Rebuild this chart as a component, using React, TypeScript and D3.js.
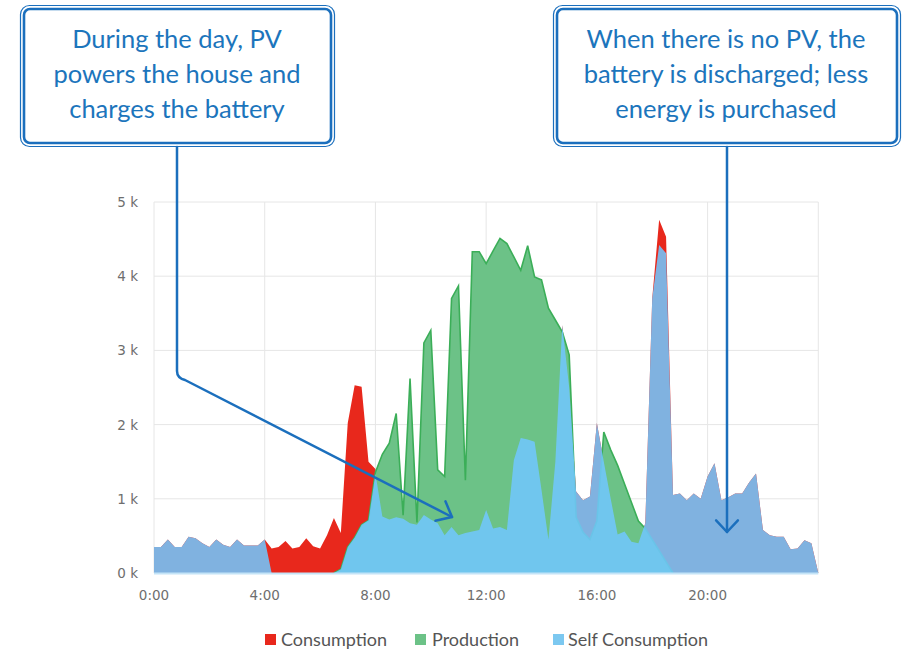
import React from 'react'
import * as d3 from 'd3'

// 15 minute slots from 0:00 to 24:00, values in W
const SLOT_MINUTES = 15

const consumption = [
  350, 350, 450, 350, 350, 490, 470, 400, 350, 450, 380, 350, 450, 370, 370, 370,
  450, 330, 350, 430, 330, 350, 470, 360, 330, 510, 740, 540, 2020, 2530, 2510, 1500,
  1400, 760, 720, 750, 730, 670, 650, 780, 720, 670, 510, 620, 510, 540, 560, 580,
  850, 600, 620, 580, 1520, 1820, 1800, 1770, 1120, 450, 1500, 3340, 2500, 1100, 980, 1030,
  2020, 1500, 1000, 520, 560, 420, 400, 670, 3700, 4760, 4530, 1050, 1070, 980, 1070, 1000,
  1300, 1480, 980, 1020, 1070, 1070, 1220, 1340, 580, 510, 490, 490, 320, 330, 440, 400,
  0,
]

const production = [
  0, 0, 0, 0, 0, 0, 0, 0, 0, 0, 0, 0, 0, 0, 0, 0,
  0, 0, 0, 0, 0, 0, 0, 0, 0, 0, 0, 50, 350, 480, 650, 710,
  1360, 1600, 1750, 2150, 780, 2620, 680, 3100, 3270, 1390, 1300, 3700, 3870, 1250, 4330, 4330,
  4170, 4340, 4510, 4440, 4260, 4080, 4410, 3990, 3950, 3570, 3410, 3250, 2940, 750, 550, 450,
  700, 1900, 1660, 1450, 1200, 950, 700, 600, 450, 300, 150, 0, 0, 0, 0, 0,
  0, 0, 0, 0, 0, 0, 0, 0, 0, 0, 0, 0, 0, 0, 0, 0,
  0,
]

const selfConsumption = [
  350, 350, 450, 350, 350, 490, 470, 400, 350, 450, 380, 350, 450, 370, 370, 370,
  450, 0, 0, 0, 0, 0, 0, 0, 0, 0, 0, 50, 350, 480, 650, 710,
  1340, 760, 720, 750, 730, 670, 650, 780, 720, 670, 510, 620, 510, 540, 560, 580,
  850, 600, 620, 580, 1520, 1820, 1800, 1770, 1120, 450, 1500, 3340, 2500, 1100, 980, 1030,
  2020, 1500, 1000, 520, 560, 420, 400, 670, 3700, 4420, 4310, 1050, 1070, 980, 1070, 1000,
  1300, 1480, 980, 1020, 1070, 1070, 1220, 1340, 580, 510, 490, 490, 320, 330, 440, 400,
  0,
]

const yTicks = [0, 1000, 2000, 3000, 4000, 5000]
const xTicks = [0, 4, 8, 12, 16, 20]
const xTickLabels = ['0:00', '4:00', '8:00', '12:00', '16:00', '20:00']

const seriesNames = ['Consumption', 'Production', 'Self Consumption']

const leftNote = ['During the day, PV', 'powers the house and', 'charges the battery']
const rightNote = ['When there is no PV, the', 'battery is discharged; less', 'energy is purchased']

const W = 902
const H = 652
const BLUE_TEXT = '#1c75bc'
const LINE_BLUE = '#1b6fbd'

function Callout({ x, y, w, h, lines, cx }: { x: number; y: number; w: number; h: number; lines: string[]; cx: number }) {
  return (
    <g>
      <rect x={x + 0.5} y={y + 0.5} width={w - 1} height={h - 1} rx={9} fill="white" stroke={LINE_BLUE} strokeWidth={1.2} />
      <rect x={x + 4} y={y + 4} width={w - 8} height={h - 8} rx={6} fill="white" stroke={LINE_BLUE} strokeWidth={2.6} />
      {lines.map((l, i) => (
        <text key={i} x={cx} y={48 + i * 35} textAnchor="middle" fill={BLUE_TEXT}
          style={{ font: '25.5px Lato, "Open Sans", sans-serif' }}>{l}</text>
      ))}
    </g>
  )
}

function arrowHead(tipX: number, tipY: number, angle: number, len: number, spread: number) {
  // angle = direction the arrow travels (radians)
  const back = angle + Math.PI
  const a1 = back - spread
  const a2 = back + spread
  return `M${tipX + len * Math.cos(a1)},${tipY + len * Math.sin(a1)} L${tipX},${tipY} L${tipX + len * Math.cos(a2)},${tipY + len * Math.sin(a2)}`
}

export default function App() {
  const hours = consumption.map((_, i) => (i * SLOT_MINUTES) / 60)

  const x = d3.scaleLinear().domain([0, 24]).range([154, 818.3])
  const y = d3.scaleLinear().domain([0, 5000]).range([573, 202])

  const areaOf = (vals: number[]) =>
    d3.area<number>()
      .x((_, i) => x(hours[i]))
      .y0(y(0))
      .y1(d => y(d))(vals) || ''

  // production outline only where there is production
  const prodFirst = production.findIndex(v => v > 0) - 1
  let prodLast = production.length - 1
  while (prodLast > 0 && production[prodLast] === 0) prodLast--
  const prodLine = d3.line<number>()
    .x(i => x(hours[i]))
    .y(i => y(production[i]))(d3.range(prodFirst, prodLast + 2)) || ''

  // connectors
  const lStart = { x: 177, y: 147 }
  const lBend = { x: 177, y: 371 }
  const lTip = { x: 452, y: 517 }
  const lAngle = Math.atan2(lTip.y - (lBend.y + 9), lTip.x - (lBend.x + 8))
  const rTip = { x: 727, y: 532 }

  const legendItems = [
    { name: seriesNames[0], color: '#e8281c', sx: 265, tx: 281 },
    { name: seriesNames[1], color: '#6cc287', sx: 415, tx: 432 },
    { name: seriesNames[2], color: '#7cc8f0', sx: 553, tx: 568 },
  ]

  return (
    <svg width={W} height={H} style={{ position: 'absolute', left: 0, top: 0, background: 'white' }}>
      {/* grid */}
      <g stroke="#e6e6e6" strokeWidth={1}>
        {yTicks.map(t => (
          <line key={'h' + t} x1={x(0)} x2={x(24)} y1={y(t)} y2={y(t)} />
        ))}
        {[...xTicks, 24].map(t => (
          <line key={'v' + t} x1={x(t)} x2={x(t)} y1={y(5000)} y2={y(0)} />
        ))}
      </g>

      {/* series */}
      <path d={areaOf(consumption)} fill="#e8281c" />
      <path d={areaOf(production)} fill="#6cc287" />
      <path d={prodLine} fill="none" stroke="#3bae58" strokeWidth={1.6} />
      <path d={areaOf(selfConsumption)} fill="rgb(113,199,254)" fillOpacity={0.87} />
      <line x1={x(0)} x2={x(24)} y1={y(0) + 0.5} y2={y(0) + 0.5} stroke="#c4e4f7" strokeWidth={2} />

      {/* axes labels */}
      <g fill="#6e6e6e" style={{ font: '13.5px "DejaVu Sans", sans-serif' }}>
        {yTicks.map(t => (
          <text key={t} x={138} y={y(t) + 5} textAnchor="end">{`${t / 1000} k`}</text>
        ))}
        {xTicks.map((t, i) => (
          <text key={t} x={x(t)} y={600} textAnchor="middle">{xTickLabels[i]}</text>
        ))}
      </g>

      {/* legend */}
      <g style={{ font: '18px Lato, sans-serif' }} fill="#555">
        {legendItems.map(it => (
          <g key={it.name}>
            <rect x={it.sx} y={634} width={11} height={11} fill={it.color} />
            <text x={it.tx} y={646}>{it.name}</text>
          </g>
        ))}
      </g>

      {/* callouts + connectors */}
      <Callout x={20} y={5} w={315} h={142} lines={leftNote} cx={177} />
      <Callout x={553} y={5} w={348} h={142} lines={rightNote} cx={726} />

      <g fill="none" stroke={LINE_BLUE} strokeWidth={2.5} strokeLinecap="round" strokeLinejoin="round">
        <path d={`M${lStart.x},${lStart.y} L${lBend.x},${lBend.y} Q${lBend.x},${lBend.y + 7} ${lBend.x + 8},${lBend.y + 9} L${lTip.x},${lTip.y}`} />
        <path d={arrowHead(lTip.x, lTip.y, lAngle, 17, 0.7)} />
        <path d={`M${rTip.x},147 L${rTip.x},${rTip.y}`} />
        <path d={arrowHead(rTip.x, rTip.y, Math.PI / 2, 16, 0.75)} />
      </g>
    </svg>
  )
}
